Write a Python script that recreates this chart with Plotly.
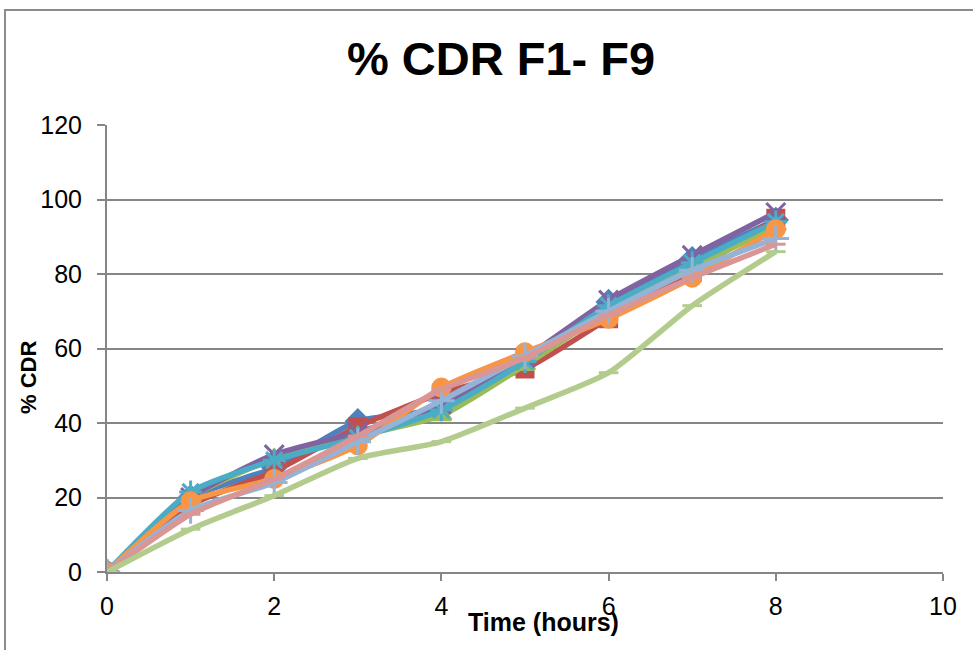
import plotly.graph_objects as go

time_hours = [0, 1, 2, 3, 4, 5, 6, 7, 8]
series_names = ["F1", "F2", "F3", "F4", "F5", "F6", "F7", "F8", "F9"]
F1 = [0, 20, 28, 40.5, 44, 57, 72.5, 84, 94.5]
F2 = [0, 18, 27, 39, 48, 54.5, 68, 80.5, 95]
F3 = [0, 20, 30.5, 36.5, 42, 55.5, 70, 81.5, 93]
F4 = [0, 20, 31.5, 37.5, 45, 57.5, 73, 85, 96.5]
F5 = [0, 21.5, 30, 36, 43.5, 56.5, 71.5, 83, 94]
F6 = [0, 19, 25, 34, 49.5, 59, 68, 79, 92]
F7 = [0, 16.5, 24, 35, 46, 58, 70, 81, 89.5]
F8 = [0, 15.5, 25, 36.5, 49, 57.5, 69, 79, 88]
F9 = [0, 11.5, 20.5, 30.5, 35, 44, 53.5, 71.5, 86]
all_series = [F1, F2, F3, F4, F5, F6, F7, F8, F9]

colors = ["#4F81BD", "#C0504D", "#9BBB59", "#8064A2", "#4BACC6",
          "#F79646", "#95B3D7", "#D99694", "#B3CC8E"]
symbols = ["diamond", "square", "triangle-up", "x-thin-open", "asterisk-open",
           "circle", "cross-thin-open", "line-ew-open", "line-ew-open"]
sizes = [17, 16, 17, 19, 19, 17, 19, 14, 14]

fig = go.Figure()
for name, ys, c, s, sz in zip(series_names, all_series, colors, symbols, sizes):
    fig.add_trace(go.Scatter(
        x=time_hours, y=ys, name=name, mode="lines+markers",
        line=dict(color=c, width=5.5, shape="spline", smoothing=0.6),
        marker=dict(symbol=s, size=sz, color=c, line=dict(color=c, width=3)),
    ))

grid = "#868686"
fig.update_layout(
    width=973, height=650,
    margin=dict(l=107, r=30, t=125, b=78),
    paper_bgcolor="white", plot_bgcolor="white",
    showlegend=False,
    font=dict(family="Liberation Sans, Arial", color="black"),
    title=dict(text="<b>% CDR F1- F9</b>", x=0.515, xanchor="center",
               y=0.91, yanchor="middle", font=dict(size=47)),
)
fig.update_xaxes(range=[0, 10], dtick=2, showgrid=False, zeroline=False,
                 showline=True, linecolor=grid, linewidth=2,
                 ticks="outside", ticklen=7, tickwidth=2, tickcolor=grid,
                 tickfont=dict(size=25), ticklabelstandoff=4)
fig.update_yaxes(range=[0, 120], dtick=20, showgrid=True, gridcolor=grid,
                 gridwidth=2, zeroline=False,
                 showline=True, linecolor=grid, linewidth=2,
                 ticks="outside", ticklen=8, tickwidth=2, tickcolor=grid,
                 tickfont=dict(size=25), ticklabelstandoff=10)

fig.add_annotation(text="<b>Time (hours)</b>", xref="paper", yref="paper",
                   x=(543 - 107) / 836, y=-(622 - 572) / 447,
                   xanchor="center", yanchor="middle", showarrow=False,
                   font=dict(size=25))
fig.add_annotation(text="<b>% CDR</b>", xref="paper", yref="paper",
                   x=-(107 - 28) / 836, y=(572 - 378) / 447, textangle=-90,
                   xanchor="center", yanchor="middle", showarrow=False,
                   font=dict(size=22))
fig.add_shape(type="rect", xref="paper", yref="paper",
              x0=(5 - 107) / 836, x1=(990 - 107) / 836,
              y0=-(680 - 572) / 447, y1=(572 - 10) / 447,
              line=dict(color="#8C8C8C", width=2), layer="below")

fig.write_html("out.html")
